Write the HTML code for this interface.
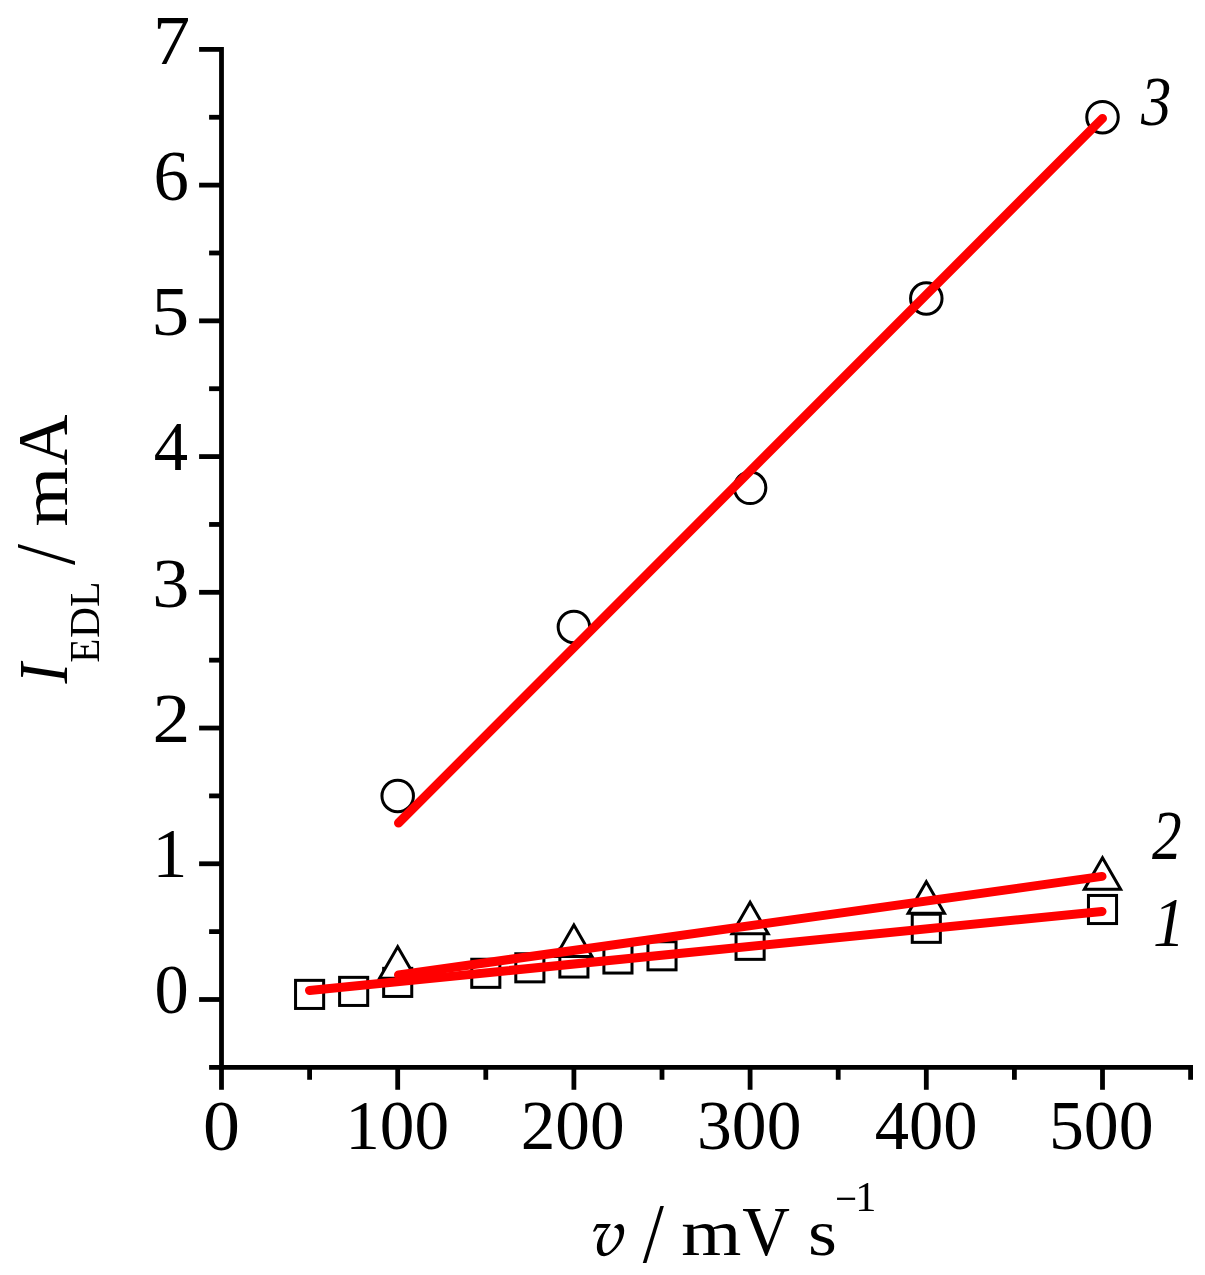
<!DOCTYPE html>
<html><head><meta charset="utf-8"><title>chart</title>
<style>
html,body{margin:0;padding:0;background:#fff;overflow:hidden;}
svg{display:block;will-change:transform;}
text{font-family:"Liberation Serif",serif;fill:#000;}
.it{font-style:italic;}
</style></head>
<body>
<svg width="1205" height="1275" viewBox="0 0 1205 1275">
<rect width="1205" height="1275" fill="#fff"/>
<g stroke="#000" stroke-width="4.8" fill="none" stroke-linecap="butt">
<line x1="221.5" y1="46.99" x2="221.5" y2="1069.77"/>
<line x1="219.10" y1="1067.37" x2="1193.00" y2="1067.37"/>
<line x1="199.10" y1="999.50" x2="221.50" y2="999.50"/>
<line x1="199.10" y1="863.77" x2="221.50" y2="863.77"/>
<line x1="199.10" y1="728.04" x2="221.50" y2="728.04"/>
<line x1="199.10" y1="592.31" x2="221.50" y2="592.31"/>
<line x1="199.10" y1="456.58" x2="221.50" y2="456.58"/>
<line x1="199.10" y1="320.85" x2="221.50" y2="320.85"/>
<line x1="199.10" y1="185.12" x2="221.50" y2="185.12"/>
<line x1="199.10" y1="49.39" x2="221.50" y2="49.39"/>
<line x1="209.10" y1="1067.37" x2="221.50" y2="1067.37"/>
<line x1="209.10" y1="931.63" x2="221.50" y2="931.63"/>
<line x1="209.10" y1="795.90" x2="221.50" y2="795.90"/>
<line x1="209.10" y1="660.17" x2="221.50" y2="660.17"/>
<line x1="209.10" y1="524.45" x2="221.50" y2="524.45"/>
<line x1="209.10" y1="388.72" x2="221.50" y2="388.72"/>
<line x1="209.10" y1="252.99" x2="221.50" y2="252.99"/>
<line x1="209.10" y1="117.26" x2="221.50" y2="117.26"/>
<line x1="221.50" y1="1067.37" x2="221.50" y2="1089.77"/>
<line x1="397.70" y1="1067.37" x2="397.70" y2="1089.77"/>
<line x1="573.90" y1="1067.37" x2="573.90" y2="1089.77"/>
<line x1="750.10" y1="1067.37" x2="750.10" y2="1089.77"/>
<line x1="926.30" y1="1067.37" x2="926.30" y2="1089.77"/>
<line x1="1102.50" y1="1067.37" x2="1102.50" y2="1089.77"/>
<line x1="309.60" y1="1067.37" x2="309.60" y2="1079.77"/>
<line x1="485.80" y1="1067.37" x2="485.80" y2="1079.77"/>
<line x1="662.00" y1="1067.37" x2="662.00" y2="1079.77"/>
<line x1="838.20" y1="1067.37" x2="838.20" y2="1079.77"/>
<line x1="1014.40" y1="1067.37" x2="1014.40" y2="1079.77"/>
<line x1="1190.60" y1="1067.37" x2="1190.60" y2="1079.77"/>
</g>
<text transform="translate(154.39,1013.22) scale(0.6842,0.6965)" font-size="100.0">0</text>
<text transform="translate(152.48,877.40) scale(0.6959,0.6923)" font-size="100.0">1</text>
<text transform="translate(152.58,741.70) scale(0.7558,0.6917)" font-size="100.0">2</text>
<text transform="translate(152.16,607.02) scale(0.7408,0.7010)" font-size="100.0">3</text>
<text transform="translate(153.86,470.00) scale(0.6863,0.7004)" font-size="100.0">4</text>
<text transform="translate(151.29,335.42) scale(0.7596,0.6967)" font-size="100.0">5</text>
<text transform="translate(153.45,199.91) scale(0.7092,0.7114)" font-size="100.0">6</text>
<text transform="translate(153.00,63.90) scale(0.7427,0.7040)" font-size="100.0">7</text>
<text transform="translate(202.89,1149.80) scale(0.7385,0.7143)" font-size="100.0">0</text>
<text transform="translate(345.20,1149.31) scale(0.6936,0.7039)" font-size="100.0">100</text>
<text transform="translate(520.65,1149.02) scale(0.6932,0.7009)" font-size="100.0">200</text>
<text transform="translate(697.07,1149.31) scale(0.6959,0.7039)" font-size="100.0">300</text>
<text transform="translate(874.66,1149.12) scale(0.6864,0.6965)" font-size="100.0">400</text>
<text transform="translate(1048.94,1148.83) scale(0.6981,0.6891)" font-size="100.0">500</text>
<g stroke="#000" stroke-width="3.0" fill="#fff" stroke-linejoin="miter">
<rect x="295.55" y="980.35" width="28.1" height="28.1"/>
<rect x="339.60" y="977.35" width="28.1" height="28.1"/>
<rect x="383.65" y="968.35" width="28.1" height="28.1"/>
<rect x="471.75" y="959.25" width="28.1" height="28.1"/>
<rect x="515.80" y="953.75" width="28.1" height="28.1"/>
<rect x="559.85" y="948.95" width="28.1" height="28.1"/>
<rect x="603.90" y="944.95" width="28.1" height="28.1"/>
<rect x="647.95" y="941.75" width="28.1" height="28.1"/>
<rect x="736.05" y="931.25" width="28.1" height="28.1"/>
<rect x="912.25" y="914.25" width="28.1" height="28.1"/>
<rect x="1088.45" y="895.45" width="28.1" height="28.1"/>
<polygon points="397.70,946.84 379.55,978.28 415.85,978.28"/>
<polygon points="573.90,924.94 555.75,956.38 592.05,956.38"/>
<polygon points="750.10,902.34 731.95,933.78 768.25,933.78"/>
<polygon points="926.30,881.84 908.15,913.28 944.45,913.28"/>
<polygon points="1102.50,857.84 1084.35,889.28 1120.65,889.28"/>
<circle cx="397.70" cy="796.00" r="15.75"/>
<circle cx="573.90" cy="627.00" r="15.75"/>
<circle cx="750.10" cy="487.80" r="15.75"/>
<circle cx="926.30" cy="298.50" r="15.75"/>
<circle cx="1102.50" cy="117.20" r="15.75"/>
</g>
<g stroke="#ff0000" stroke-width="9.0" stroke-linecap="round" fill="none">
<line x1="309.5" y1="990.4" x2="1102" y2="911.4"/>
<line x1="398.5" y1="975" x2="1102" y2="876.4"/>
<line x1="398.5" y1="823" x2="1102.5" y2="118.4"/>
</g>
<text class="it" transform="translate(1140.89,125.32) scale(0.6063,0.7010)" font-size="100.0">3</text>
<text class="it" transform="translate(1151.97,859.00) scale(0.5926,0.6978)" font-size="100.0">2</text>
<text class="it" transform="translate(1152.92,946.30) scale(0.6388,0.7044)" font-size="100.0">1</text>
<path transform="translate(585,1195) scale(0.08299)" fill="#000" d="M 95 440 L 120 385 L 140 350 L 310 350 L 305 366 C 270 410, 228 470, 214 530 C 202 590, 205 650, 222 688 C 238 706, 268 702, 292 684 C 352 638, 400 568, 412 500 C 420 452, 410 418, 382 402 C 368 396, 356 393, 348 391 C 368 364, 394 350, 420 349 C 456 351, 472 386, 472 432 C 472 522, 420 612, 340 682 C 300 716, 265 738, 230 738 C 180 738, 143 700, 143 630 C 143 540, 192 470, 258 398 L 152 394 L 122 440 Z"/>
<text transform="translate(642.80,1262.16) scale(0.7631,0.8551)" font-size="100.0">/</text>
<text transform="translate(681.18,1255.00) scale(0.7731,0.6600)" font-size="100.0">m</text>
<text transform="translate(742.16,1254.93) scale(0.6603,0.7046)" font-size="100.0">V</text>
<text transform="translate(808.01,1255.15) scale(0.7420,0.6633)" font-size="100.0">s</text>
<text transform="translate(835.06,1214.28) scale(0.3890,0.4618)" font-size="100.0">−</text>
<text transform="translate(855.28,1211.00) scale(0.4232,0.4272)" font-size="100.0">1</text>
<text class="it" transform="translate(66.80,683.46) rotate(-90) scale(0.6117,0.6995)" font-size="100.0">I</text>
<text transform="translate(98.90,662.83) rotate(-90) scale(0.3927,0.4261)" font-size="100.0">E</text>
<text transform="translate(98.82,638.04) rotate(-90) scale(0.4301,0.4248)" font-size="100.0">D</text>
<text transform="translate(98.90,606.91) rotate(-90) scale(0.4196,0.4261)" font-size="100.0">L</text>
<text transform="translate(74.17,565.00) rotate(-90) scale(0.7559,0.8521)" font-size="100.0">/</text>
<text transform="translate(67.00,526.61) rotate(-90) scale(0.7690,0.6622)" font-size="100.0">m</text>
<text transform="translate(67.00,465.39) rotate(-90) scale(0.7077,0.7135)" font-size="100.0">A</text>
</svg>
</body></html>
